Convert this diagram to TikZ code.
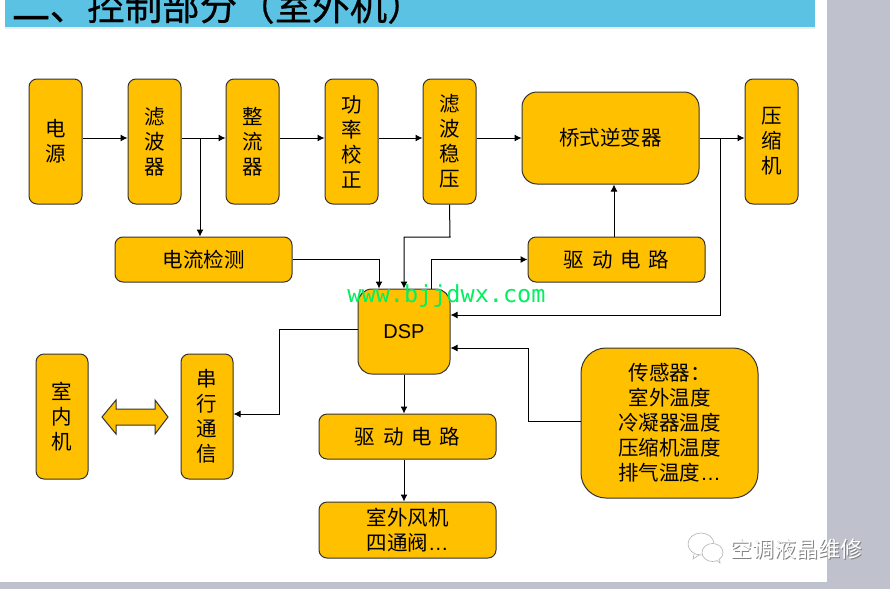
\documentclass[tikz,border=0pt]{standalone}
\usepackage{fontspec}
\setmainfont{Liberation Sans}
\newfontfamily\cjk{Noto Sans CJK SC}
\newfontfamily\cjkt[FakeBold=0.5]{Noto Sans CJK SC}
\newfontfamily\wmono{DejaVu Sans Mono}
\usetikzlibrary{arrows.meta,calc}
\definecolor{boxfill}{HTML}{FFC000}
\definecolor{boxline}{HTML}{333333}
\definecolor{banner}{HTML}{5BC2E3}
\definecolor{desk}{HTML}{BFC1CC}
\definecolor{wmgreen}{HTML}{00F060}
\newcommand{\lowdots}{{\rmfamily …}}
\newcommand{\gp}{\hspace{7.7pt}}
\tikzset{
  x=1pt,y=-1pt,
  box/.style={draw=boxline,fill=boxfill,line width=1pt,inner sep=0pt,align=center,
    font=\cjk\fontsize{20.5}{25}\selectfont,text=black},
  small/.style={box,rounded corners=8pt},
  big/.style={box,rounded corners=15pt},
  conn/.style={draw=black,line width=1pt,-{Latex[length=7pt,width=7pt]}},
}
\begin{document}
\begin{tikzpicture}
\useasboundingbox (0,0) rectangle (890,589);
\clip (0,0) rectangle (890,589);
\fill[desk] (0,0) rectangle (890,589);
\fill[white] (0,0) rectangle (827,582);
\fill[black!8] (5,27) rectangle (815,29);
\fill[banner] (5,0) rectangle (815,27);
\node[anchor=west,inner sep=0pt,font=\cjkt\fontsize{37.5}{40}\selectfont] (title) at (12,6) {\smash{\raisebox{-12pt}{一}}、控制部分（室外机）};

\node[small,minimum width=53pt,minimum height=125pt] (power) at (55.5,141.5) {电\\源};
\node[small,minimum width=53pt,minimum height=125pt] (filter) at (154.5,141.5) {滤\\波\\器};
\node[small,minimum width=53pt,minimum height=125pt] (rect) at (252.5,141.5) {整\\流\\器};
\node[small,minimum width=53pt,minimum height=125pt] (pfc) at (351.5,141.5) {功\\率\\校\\正};
\node[small,minimum width=53pt,minimum height=125pt] (stab) at (449.5,141.5) {滤\\波\\稳\\压};
\node[big,minimum width=177pt,minimum height=92pt] (bridge) at (610.5,138) {桥式逆变器};
\node[small,minimum width=53pt,minimum height=125pt] (comp) at (771.5,141.5) {压\\缩\\机};
\node[small,minimum width=177pt,minimum height=45pt] (sense) at (203.5,259.5) {电流检测};
\node[small,minimum width=177pt,minimum height=45pt] (drvtop) at (616.5,259.5) {驱\gp 动\gp 电\gp 路};
\node[box,rounded corners=14pt,minimum width=92pt,minimum height=85pt,font=\fontsize{20}{24}\selectfont] (dsp) at (404,331.5) {DSP};
\node[small,minimum width=52pt,minimum height=125pt] (indoor) at (62,416.5) {室\\内\\机};
\node[small,minimum width=52pt,minimum height=125pt] (serial) at (207,416.5) {串\\行\\通\\信};
\node[small,minimum width=177pt,minimum height=45pt] (drvbot) at (407.5,436.5) {驱\gp 动\gp 电\gp 路};
\node[small,minimum width=177pt,minimum height=56pt] (fan) at (407.5,530) {室外风机\\四通阀\lowdots};
\node[box,rounded corners=25pt,minimum width=177pt,minimum height=150pt] (sensors) at (669.5,423) {传感器：\\室外温度\\冷凝器温度\\压缩机温度\\排气温度\lowdots};

\draw[draw=boxline,fill=boxfill,line width=1pt] (102,417) -- (116,400) -- (116,409) -- (155,409) -- (155,400) -- (168,417) -- (155,434) -- (155,425) -- (116,425) -- (116,434) -- cycle;

\coordinate (jf) at (200,138);
\coordinate (jb) at (720,138);
\coordinate (sj) at (528,348);

\draw[conn] (power.east |- 0,138) -- (filter.west |- 0,138);
\draw[conn] (filter.east |- 0,138) -- (rect.west |- 0,138);
\draw[conn] (rect.east |- 0,138) -- (pfc.west |- 0,138);
\draw[conn] (pfc.east |- 0,138) -- (stab.west |- 0,138);
\draw[conn] (stab.east |- 0,138) -- (bridge.west);
\draw[conn] (bridge.east) -- (comp.west |- 0,138);
\draw[conn] (jf) -- (jf |- sense.north);
\draw[conn] (sense.east) -| ($(dsp.north)+(-25,0)$);
\draw[conn] (stab.south) -- (450,237) -| (dsp.north);
\draw[conn] ($(dsp.north)+(27,0)$) |- (drvtop.west);
\draw[conn] (drvtop.north -| 614,0) -- (bridge.south -| 614,0);
\draw[conn] (jb) |- (dsp.east |- 0,315);
\draw[conn] (sensors.west |- 0,421) -- (528,421) |- (dsp.east |- sj);
\draw[conn] (dsp.west |- 0,329) -| (279,414) -- (serial.east |- 0,414);
\draw[conn] (dsp.south) -- (dsp.south |- drvbot.north);
\draw[conn] (drvbot.south -| dsp.south) -- (fan.north -| dsp.south);

\node[inner sep=0pt,text=wmgreen,font=\wmono\fontsize{23.5}{24}\selectfont] (site) at (446.5,296) {www.bjjdwx.com};

% watermark
\begin{scope}[draw=black!30,line width=.6pt,fill=white]
\draw (701,544) ellipse (13 and 11);
\draw (694,554) -- (693,559) -- (699,555);
\draw[fill=white] (712.5,552.5) ellipse (10.5 and 9);
\draw[fill=white] (717,560.5) -- (720,563) -- (719.5,558.5);
\end{scope}
\node[inner sep=0pt,text=black!50,font=\cjk\fontsize{22}{24}\selectfont] (wmshadow) at (797.5,550.5) {空调液晶维修};
\node[inner sep=0pt,text=white,font=\cjk\fontsize{22}{24}\selectfont] (wmtext) at (796.5,549.5) {空调液晶维修};
\end{tikzpicture}
\end{document}
